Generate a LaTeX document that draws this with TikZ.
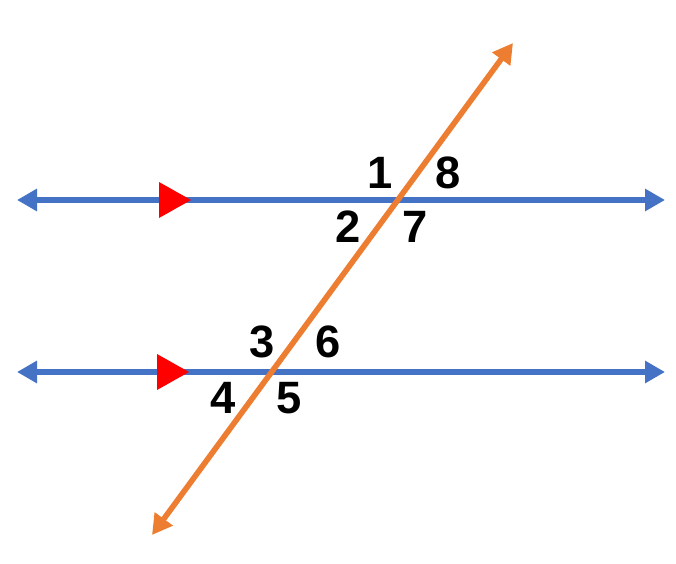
\documentclass[tikz,border=0pt]{standalone}
\usepackage{fontspec}
\setmainfont{Liberation Sans}
\usetikzlibrary{arrows.meta}
\definecolor{lineblue}{HTML}{4472C4}
\definecolor{lineorange}{HTML}{ED7D31}

\begin{document}
\begin{tikzpicture}[x=0.75pt,y=-0.75pt,
    parline/.style={lineblue,line width=4.6pt,{Triangle[length=15pt,width=16pt]}-{Triangle[length=15pt,width=16pt]}},
    transline/.style={lineorange,line width=4.2pt,{Triangle[length=15pt,width=16pt]}-{Triangle[length=15pt,width=16pt]}},
    anglelabel/.style={font=\fontsize{34}{34}\selectfont\bfseries,inner sep=0pt}]

            %\draw [help lines] (0,0) grid (676,564);
            \useasboundingbox (0,0) rectangle (676,564);

            \path   (17,200)  coordinate (tl)
                    (665,200) coordinate (tr)
                    (17,372)  coordinate (bl)
                    (665,372) coordinate (br)
                    (152,535) coordinate (os)
                    (513,43)  coordinate (oe)
                    (159,200) coordinate (mt)
                    (157,372) coordinate (mb);

            \draw[parline] (node cs: name =tl) -- (node cs: name =tr);
            \draw[parline] (node cs: name =bl) -- (node cs: name =br);

            % parallel marks
            \fill[red] (mt) ++(0,-18) -- ++(32,18) -- ++(-32,18) -- cycle;
            \fill[red] (mb) ++(0,-18) -- ++(32,18) -- ++(-32,18) -- cycle;

            \draw[transline] (node cs: name =os) -- (node cs: name =oe);

            \path   (380,173) node (a1) [anglelabel] {1}
                    (348,227) node (a2) [anglelabel] {2}
                    (262,342) node (a3) [anglelabel] {3}
                    (223,398) node (a4) [anglelabel] {4}
                    (289,398) node (a5) [anglelabel] {5}
                    (328,342) node (a6) [anglelabel] {6}
                    (415,227) node (a7) [anglelabel] {7}
                    (448,173) node (a8) [anglelabel] {8};

        \end{tikzpicture}
\end{document}
